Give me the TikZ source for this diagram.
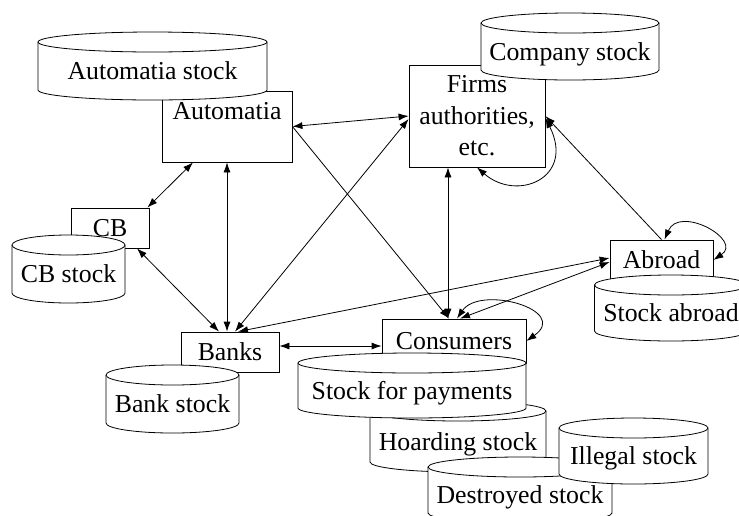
\documentclass[tikz,border=0pt]{standalone}
\usepackage{fontspec}
\setmainfont{Liberation Serif}
\usetikzlibrary{arrows.meta}

% stock drum: name, centre x, top y, width, height, label
\newcommand{\stockcyl}[6]{%
	\filldraw[-,fill=white] (#2-#4/2,#3+10) -- (#2-#4/2,#3+#5-10)
		arc[start angle=180,end angle=0,x radius=#4/2,y radius=10]
		-- (#2+#4/2,#3+10)
		arc[start angle=0,end angle=-180,x radius=#4/2,y radius=10] -- cycle;
	\draw[-] (#2-#4/2,#3+10) arc[start angle=180,end angle=0,x radius=#4/2,y radius=10];
	\node[anchor=base] (#1) at (#2,#3+#5/2+13.5) {#6};
}

\begin{document}
\begin{tikzpicture}[x=1pt,y=-1pt,<->,>={Latex[length=10pt,width=7pt]},line width=0.8pt,
		font=\fontsize{25.8}{31.5}\selectfont,
		box/.style={draw,rectangle,fill=white,inner sep=2pt,align=center}]
		\useasboundingbox (0,0) rectangle (739,515);

		% agents
		\node[box,minimum width=130pt,minimum height=71pt] (auto) at (227,126.5) {Automatia\\~};
		\node[box,minimum width=136pt,minimum height=102pt] (firms) at (477,116) {Firms\\authorities,\\etc.};
		\node[box,minimum width=78pt,minimum height=40pt] (cb) at (110,228) {CB};
		\node[box,minimum width=98pt,minimum height=40pt] (banks) at (230,352) {Banks};
		\node[box,minimum width=103pt,minimum height=40pt] (abroad) at (661.5,260) {Abroad};
		\node[box,minimum width=144pt,minimum height=44pt] (cons) at (454,341) {Consumers};

		% stocks
		\stockcyl{austock}{152.5}{32}{229}{68}{Automatia stock}
		\stockcyl{costock}{570}{13}{178}{67}{Company stock}
		\stockcyl{cbstock}{68.5}{235}{113}{68}{CB stock}
		\stockcyl{bastock}{172.5}{365}{133}{68}{Bank stock}
		\stockcyl{abstock}{671}{275}{153}{66}{Stock abroad}
		\stockcyl{hoardstock}{458}{401}{176}{71}{Hoarding stock}
		\stockcyl{paystock}{412}{353}{228}{65}{Stock for payments}
		\stockcyl{destock}{520}{457}{184}{66}{Destroyed stock}
		\stockcyl{illstock}{633.5}{418}{149}{66}{Illegal stock}

		% flows
		\draw (auto.east) -- (firms.west);
		\draw[->] (auto.east) -- ([xshift=-5pt]cons.north);
		\draw ([xshift=-34pt]auto.south) -- ([xshift=-2pt]cb.north east);
		\draw ([xshift=-3pt]banks.north) -- (auto.south);
		\draw ([xshift=27pt]cb.south) -- ([xshift=-11pt]banks.north);
		\draw ([xshift=5pt]banks.north) -- ([yshift=-3pt]firms.west);
		\draw ([xshift=8pt]banks.north) -- ([yshift=2pt]abroad.west);
		\draw ([yshift=6pt]banks.east) -- ([yshift=6pt]banks.east -| cons.west);
		\draw ([xshift=-29pt]firms.south) -- ([xshift=-6pt]cons.north);
		\draw ([xshift=6pt]cons.north) -- ([yshift=-2pt]abroad.west);
		\draw[->] (abroad.north) -- (firms.east);
		\draw ([yshift=-2pt]firms.east) .. controls +(30,60) and +(40,35) .. (firms.south);
		\draw ([xshift=3pt]abroad.north) .. controls +(15,-35) and +(30,-20) .. (abroad.east);
		\draw ([xshift=3pt]cons.north) .. controls +(23,-34) and +(44,-31) .. (cons.east);
	\end{tikzpicture}
\end{document}
